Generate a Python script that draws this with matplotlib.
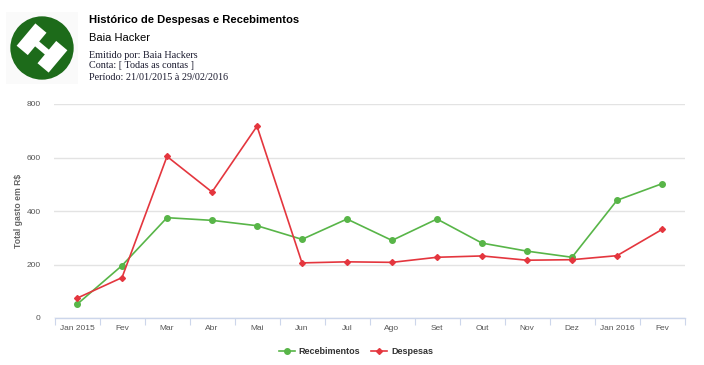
import matplotlib
matplotlib.use("Agg")
import matplotlib.pyplot as plt
from matplotlib.patches import Circle, Polygon, Rectangle
import numpy as np

categories = ["Jan 2015", "Fev", "Mar", "Abr", "Mai", "Jun", "Jul", "Ago",
              "Set", "Out", "Nov", "Dez", "Jan 2016", "Fev"]
recebimentos = [51, 196, 375, 365, 345, 294, 370, 290, 370, 280, 250, 227, 440, 502]
despesas = [74, 151, 604, 471, 717, 206, 210, 208, 227, 232, 216, 218, 233, 331]
yticks = [0, 200, 400, 600, 800]

W, H = 704, 365
fig = plt.figure(figsize=(W / 100, H / 100), dpi=100)
fig.patch.set_facecolor("white")

def fx(px):
    return px / W

def fy(py):
    return 1 - py / H

# Header
fig.text(fx(89), fy(20), "Histórico de Despesas e Recebimentos", fontsize=8.1,
         fontweight="bold", family="Liberation Sans", va="center", ha="left", color="#000")
fig.text(fx(89), fy(38), "Baia Hacker", fontsize=8.0, family="Liberation Sans",
         va="center", ha="left", color="#000")
for yy, t in [(55, "Emitido por: Baia Hackers"), (66, "Conta: [ Todas as contas ]"),
              (78, "Período: 21/01/2015 à 29/02/2016")]:
    fig.text(fx(89), fy(yy), t, fontsize=7.3, family="Liberation Serif",
             va="center", ha="left", color="#1a1a2e")

# Logo
lax = fig.add_axes([fx(4), fy(86), fx(80) - fx(4), fy(10) - fy(86)])
lax.set_xlim(-1.2, 1.2)
lax.set_ylim(-1.2, 1.2)
lax.axis("off")
lax.add_patch(Rectangle((-1.15, -1.15), 2.3, 2.3, facecolor="#fafafa", edgecolor="none"))
lax.add_patch(Circle((0, 0), 1.0, facecolor="#1d6b1a", edgecolor="none"))
shape = np.array([[-0.66, -0.46], [-0.2, -0.46], [-0.2, -0.1], [0.2, -0.1], [0.2, -0.46],
                  [0.66, -0.46], [0.66, 0.46], [0.2, 0.46], [0.2, 0.1], [-0.2, 0.1],
                  [-0.2, 0.46], [-0.66, 0.46]])
ang = np.deg2rad(-40)
R = np.array([[np.cos(ang), -np.sin(ang)], [np.sin(ang), np.cos(ang)]])
shape = shape @ R.T
lax.add_patch(Polygon(shape, closed=True, facecolor="white", edgecolor="none"))

# Chart
ax = fig.add_axes([fx(54.5), fy(318), fx(684.5) - fx(54.5), fy(104) - fy(318)])
x = np.arange(len(categories))
green = "#58b548"
red = "#e4363e"
ax.plot(x, recebimentos, color=green, lw=1.2, marker="o", ms=4, label="Recebimentos", zorder=3)
ax.plot(x, despesas, color=red, lw=1.2, marker="D", ms=3, label="Despesas", zorder=3)

ax.set_xlim(-0.5, len(categories) - 0.5)
ax.set_ylim(0, 800)
ax.set_yticks(yticks)
ax.set_yticklabels([str(v) for v in yticks])
ax.set_xticks(x)
ax.set_xticklabels(categories)
ax.set_xticks(np.arange(-0.5, len(categories), 1), minor=True)
ax.tick_params(axis="x", which="major", length=0, pad=5, labelsize=6, labelcolor="#555")
ax.tick_params(axis="x", which="minor", length=5, width=0.8, color="#ccd6eb", direction="out")
ax.tick_params(axis="y", length=0, pad=10, labelsize=6, labelcolor="#555")
for lab in ax.get_xticklabels() + ax.get_yticklabels():
    lab.set_family("Liberation Sans")
ax.grid(axis="y", color="#e3e3e3", lw=1)
ax.set_axisbelow(True)
for s in ["top", "right", "left"]:
    ax.spines[s].set_visible(False)
ax.spines["bottom"].set_color("#ccd6eb")
ax.spines["bottom"].set_linewidth(1)
ax.set_ylabel("Total gasto em R$", fontsize=6.2, fontweight="bold", color="#666",
              family="Liberation Sans")
ax.yaxis.set_label_coords(-(54.5 - 23) / (684.5 - 54.5), 0.5)

leg = fig.legend(loc="center", bbox_to_anchor=(fx(356), fy(352)), ncol=2, frameon=False,
                 handlelength=1.8, columnspacing=1.2, handletextpad=0.4,
                 prop={"family": "Liberation Sans", "weight": "bold", "size": 6.5})
for t in leg.get_texts():
    t.set_color("#333")

fig.savefig("out.png", dpi=100, facecolor="white")
